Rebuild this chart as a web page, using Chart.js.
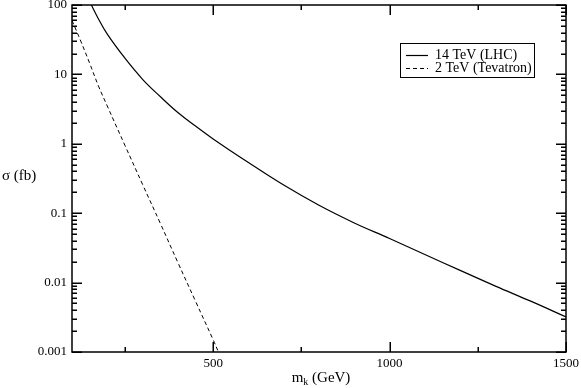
<!DOCTYPE html>
<html>
<head>
<meta charset="utf-8">
<script src="https://cdn.jsdelivr.net/npm/chart.js@4.4.1/dist/chart.umd.min.js"></script>
<style>
html,body{margin:0;padding:0;background:#fff;}
#wrap{position:relative;width:581px;height:388px;}
</style>
</head>
<body>
<div id="wrap"><canvas id="xsecChart"></canvas></div>
<script>
// cross sections: mass in GeV, sigma in fb
const lhcMass  = [150, 175, 200, 250, 300, 350, 400, 450, 500, 600, 700, 800, 900, 1000, 1100, 1200, 1300, 1400, 1500];
const lhcSigma = [112, 63, 38, 17.1, 8.5, 4.8, 2.82, 1.8, 1.175, 0.537, 0.254, 0.130, 0.0724, 0.0432, 0.0254, 0.0150, 0.0089, 0.0054, 0.0032];
const tevMass  = [100, 125, 150, 175, 200, 250, 300, 350, 400, 450, 500, 515];
const tevSigma = [60, 30, 14.5, 6.8, 3.5, 0.95, 0.26, 0.072, 0.0195, 0.0054, 0.0015, 0.001];
const seriesLabels = ['14 TeV (LHC)', '2 TeV (Tevatron)'];
const xTickLabels = [500, 1000, 1500];
const xMinorTicks = [250, 750, 1250];
const yTickLabels = [100, 10, 1, 0.1, 0.01, 0.001];

const serif = "'Liberation Serif', 'DejaVu Serif', serif";
Chart.defaults.font.family = serif;
Chart.defaults.font.size = 13;
Chart.defaults.color = '#000';

function toPoints(xs, ys){
	return xs.map((x, i) => ({x: x, y: ys[i]}));
}

// frame, inward ticks on all four sides, axis titles and boxed legend
const framePlugin = {
	id: 'frameTicks',
	afterDraw(chart){
		const ctx = chart.ctx;
		const a = chart.chartArea;
		const xs = chart.scales.x, ys = chart.scales.y;
		ctx.save();
		ctx.fillStyle = '#000';
		// y ticks: decades long, 2..9 short
		yTickLabels.forEach(d => {
			for (let k = 1; k <= 9; k++){
				const v = d * k;
				if (v > 100.001) continue;
				const py = Math.round(ys.getPixelForValue(v));
				const len = k === 1 ? 10 : 5;
				ctx.fillRect(a.left, py - 0.5, len, 1.5);
				ctx.fillRect(a.right - len, py - 0.5, len, 1.5);
			}
		});
		// x ticks
		const xt = xTickLabels.map(v => [v, 10]).concat(xMinorTicks.map(v => [v, 5]));
		xt.forEach(([v, len]) => {
			const px = Math.round(xs.getPixelForValue(v));
			ctx.fillRect(px - 0.5, a.bottom - len, 1.5, len);
			ctx.fillRect(px - 0.5, a.top, 1.5, len);
		});

		ctx.strokeStyle = '#000';
		ctx.lineWidth = 1.5;
		ctx.strokeRect(a.left, a.top, a.right - a.left, a.bottom - a.top);

		// axis titles
		ctx.font = '15px ' + serif;
		ctx.textBaseline = 'middle';
		ctx.textAlign = 'left';
		ctx.fillText('\u03c3 (fb)', 2, (a.top + a.bottom) / 2 - 2);

		const cx = (a.left + a.right) / 2;
		const by = 382;
		const wM = ctx.measureText('m').width;
		ctx.font = '10px ' + serif;
		const wK = ctx.measureText('k').width;
		ctx.font = '15px ' + serif;
		const wRest = ctx.measureText(' (GeV)').width;
		const x0 = cx - (wM + wK + wRest) / 2 + 2;
		ctx.textBaseline = 'alphabetic';
		ctx.fillText('m', x0, by);
		ctx.font = '10px ' + serif;
		ctx.fillText('k', x0 + wM, by + 3);
		ctx.font = '15px ' + serif;
		ctx.fillText(' (GeV)', x0 + wM + wK, by);

		// legend box
		ctx.font = '14px ' + serif;
		ctx.lineWidth = 1;
		ctx.strokeRect(400.5, 43.5, 134, 34);
		ctx.textBaseline = 'middle';
		chart.data.datasets.forEach((ds, i) => {
			const ly = 55.5 + i * 13;
			ctx.beginPath();
			ctx.setLineDash(ds.borderDash || []);
			ctx.lineWidth = ds.borderWidth;
			ctx.moveTo(406, ly); ctx.lineTo(428, ly);
			ctx.stroke();
			ctx.setLineDash([]);
			ctx.fillText(ds.label, 435, ly);
		});
		ctx.restore();
	}
};

new Chart(document.getElementById('xsecChart').getContext('2d'), {
	type: 'line',
	data: {
		datasets: [{
			label: seriesLabels[0],
			data: toPoints(lhcMass, lhcSigma),
			borderColor: '#000',
			borderWidth: 1.2,
			pointRadius: 0,
			tension: 0.4,
			fill: false
		}, {
			label: seriesLabels[1],
			data: toPoints(tevMass, tevSigma),
			borderColor: '#000',
			borderWidth: 1,
			borderDash: [4, 3],
			pointRadius: 0,
			tension: 0.4,
			fill: false
		}]
	},
	options: {
		responsive: true,
		maintainAspectRatio: false,
		animation: false,
		layout: {padding: {top: 5, right: 15, left: 0, bottom: 0}},
		plugins: {legend: {display: false}, tooltip: {enabled: false}},
		scales: {
			x: {
				type: 'linear',
				min: 100,
				max: 1500,
				grid: {display: false, drawTicks: false},
				border: {display: false},
				ticks: {padding: 4, maxRotation: 0, callback: v => String(v)},
				afterBuildTicks: s => { s.ticks = xTickLabels.map(v => ({value: v})); },
				afterFit: s => { s.height = 36; s.paddingLeft = 0; s.paddingRight = 0; }
			},
			y: {
				type: 'logarithmic',
				min: 0.001,
				max: 100,
				grid: {display: false, drawTicks: false},
				border: {display: false},
				ticks: {padding: 5, callback: v => String(v)},
				afterBuildTicks: s => { s.ticks = yTickLabels.map(v => ({value: v})); },
				afterFit: s => { s.width = 72; s.paddingTop = 0; s.paddingBottom = 0; }
			}
		}
	},
	plugins: [framePlugin]
});
</script>
</body>
</html>
